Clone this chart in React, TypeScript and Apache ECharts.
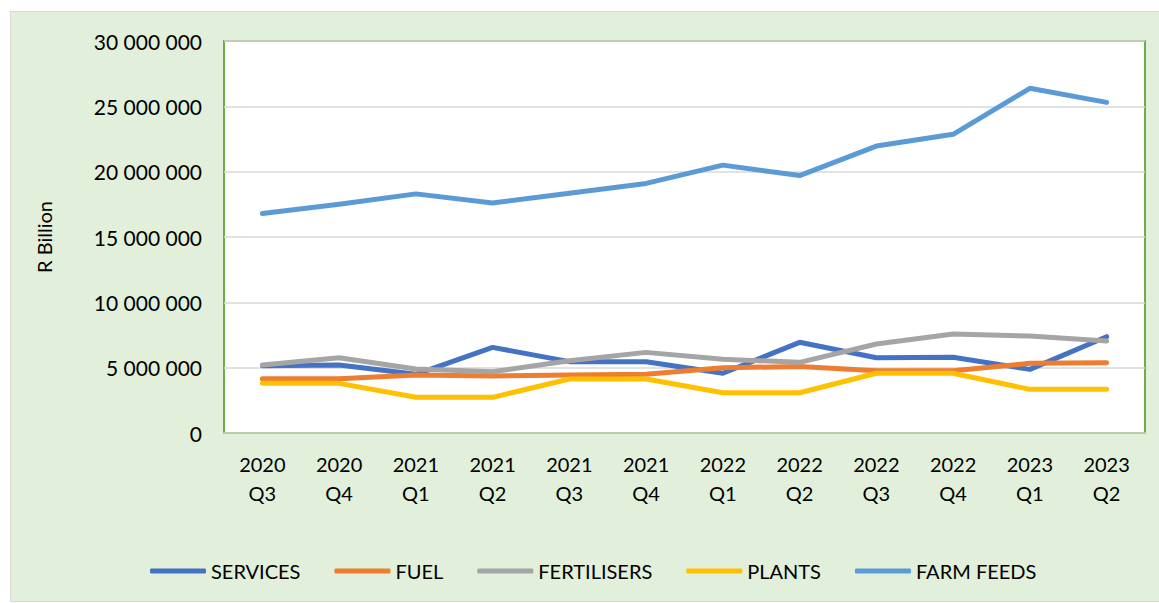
import React, { useEffect, useRef } from "react";
import * as echarts from "echarts";

const categories = [
  "2020 Q3", "2020 Q4", "2021 Q1", "2021 Q2", "2021 Q3", "2021 Q4",
  "2022 Q1", "2022 Q2", "2022 Q3", "2022 Q4", "2023 Q1", "2023 Q2",
];

const services = [5150000, 5200000, 4490000, 6550000, 5460000, 5460000, 4570000, 6940000, 5760000, 5800000, 4870000, 7370000];
const fuel = [4160000, 4160000, 4440000, 4360000, 4440000, 4500000, 5000000, 5080000, 4770000, 4770000, 5330000, 5380000];
const fertilisers = [5200000, 5760000, 4900000, 4690000, 5530000, 6170000, 5640000, 5410000, 6810000, 7580000, 7420000, 7040000];
const plants = [3800000, 3800000, 2730000, 2730000, 4130000, 4130000, 3080000, 3080000, 4570000, 4570000, 3340000, 3340000];
const farmFeeds = [16800000, 17500000, 18300000, 17600000, 18350000, 19100000, 20500000, 19700000, 21960000, 22860000, 26380000, 25300000];

const seriesNames = ["SERVICES", "FUEL", "FERTILISERS", "PLANTS", "FARM FEEDS"];
const seriesData = [services, fuel, fertilisers, plants, farmFeeds];
const seriesColors = ["#4472C4", "#ED7D31", "#A5A5A5", "#FFC000", "#5B9BD5"];

const yTicks = { min: 0, max: 30000000, interval: 5000000 };
const yAxisName = "R Billion";

const FONT = "Lato";

export default function App() {
  const ref = useRef<HTMLDivElement>(null);

  useEffect(() => {
    if (!ref.current) return;
    const chart = echarts.init(ref.current, undefined, { renderer: "svg" });
    chart.setOption({
      animation: false,
      textStyle: { fontFamily: FONT },
      grid: {
        show: true,
        left: 224,
        top: 41,
        right: 14,
        bottom: 170,
        backgroundColor: "#FFFFFF",
        borderColor: "#70AD47",
        borderWidth: 2,
        containLabel: false,
      },
      legend: {
        left: 145,
        top: 556,
        itemWidth: 56,
        itemHeight: 5,
        itemGap: 34,
        icon: "roundRect",
        textStyle: { fontFamily: FONT, fontSize: 20, color: "#000" },
        data: seriesNames,
      },
      xAxis: {
        type: "category",
        data: categories,
        boundaryGap: true,
        axisTick: { show: false },
        axisLine: { show: true, lineStyle: { color: "#B7CFA8", width: 2 } },
        axisLabel: {
          color: "#000",
          fontFamily: FONT,
          fontSize: 20,
          lineHeight: 29,
          margin: 16,
          interval: 0,
          formatter: (v: string) => v.replace(" ", "\n"),
        },
      },
      yAxis: {
        type: "value",
        min: yTicks.min,
        max: yTicks.max,
        interval: yTicks.interval,
        name: yAxisName,
        nameLocation: "middle",
        nameRotate: 90,
        nameGap: 170,
        nameTextStyle: { color: "#000", fontFamily: FONT, fontSize: 20 },
        axisLine: { show: false },
        axisTick: { show: false },
        splitLine: { lineStyle: { color: "#D9D9D9", width: 1.5 } },
        axisLabel: {
          color: "#000",
          fontFamily: FONT,
          fontSize: 21,
          margin: 22,
          formatter: (v: number) => String(v).replace(/\B(?=(\d{3})+(?!\d))/g, " "),
        },
      },
      series: seriesNames.map((name, i) => ({
        name,
        type: "line",
        data: seriesData[i],
        symbol: "none",
        color: seriesColors[i],
        lineStyle: { width: 5, color: seriesColors[i], cap: "round", join: "round" },
      })),
    });
    return () => chart.dispose();
  }, []);

  return (
    <div style={{ position: "absolute", left: 0, top: 0, width: 1159, height: 603, background: "#FFFFFF", overflow: "hidden" }}>
      <div
        style={{
          position: "absolute",
          left: 10,
          top: 11,
          width: 1160,
          height: 589,
          background: "#E2EFDA",
          border: "1.5px solid #D9D9D9",
        }}
      />
      <div ref={ref} style={{ position: "absolute", left: 0, top: 0, width: 1159, height: 603 }} />
    </div>
  );
}
